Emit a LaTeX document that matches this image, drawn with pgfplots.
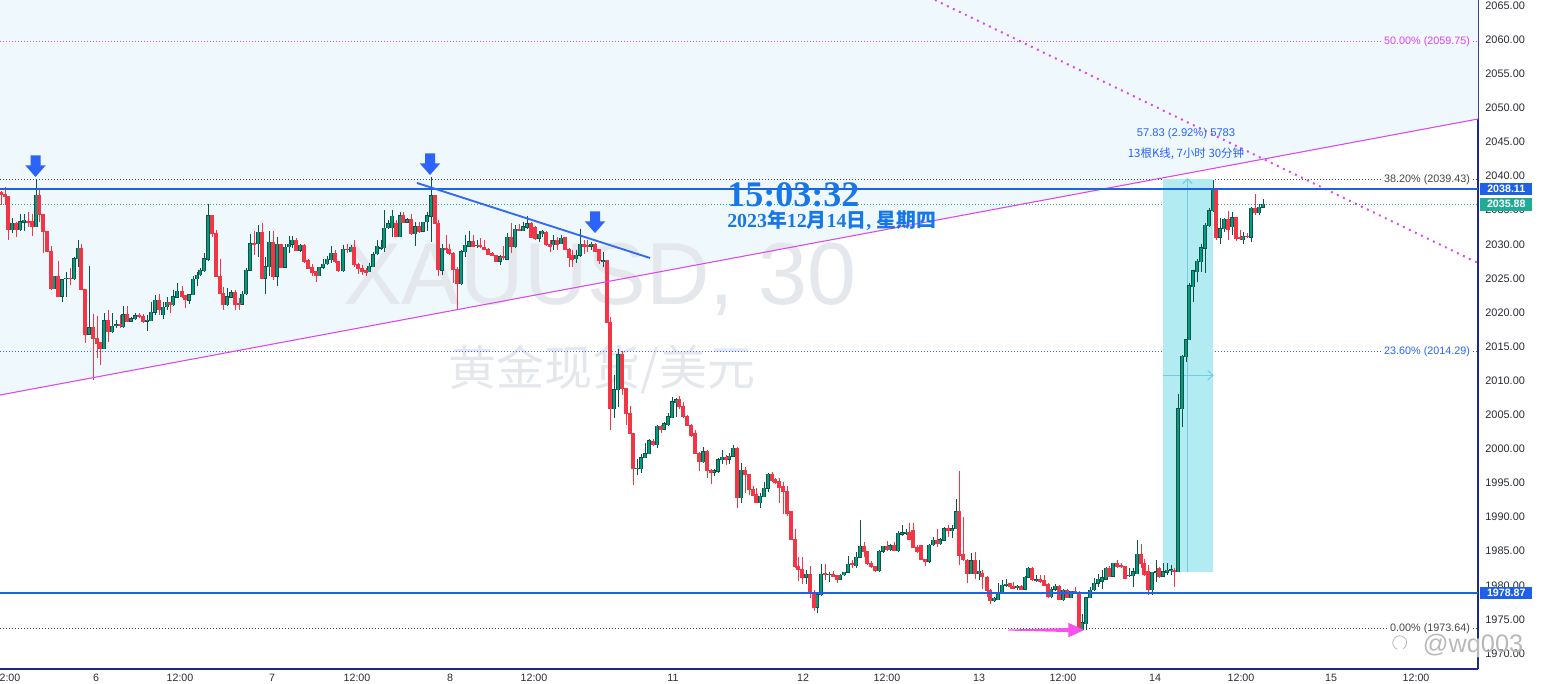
\documentclass[border=0pt]{standalone}
\usepackage{fontspec}
\setmainfont{Liberation Sans}
\newfontfamily\cjk{Noto Sans CJK SC}
\newfontfamily\serifclock{Liberation Serif}
\usepackage{pgfplots}
\usepackage{pgfplotstable}
\pgfplotsset{compat=1.18}

\definecolor{bgshade}{RGB}{239,248,252}
\definecolor{upfill}{RGB}{8,153,129}
\definecolor{updark}{RGB}{12,84,70}
\definecolor{downred}{RGB}{242,54,69}
\definecolor{lineblue}{RGB}{30,96,232}
\definecolor{trendblue}{RGB}{50,105,245}
\definecolor{arrowblue}{RGB}{44,100,250}
\definecolor{trendviolet}{RGB}{218,72,240}
\definecolor{fibmag}{RGB}{224,64,251}
\definecolor{fibgray}{RGB}{70,70,70}
\definecolor{fibblue}{RGB}{41,98,255}
\definecolor{pricegreen}{RGB}{34,171,148}
\definecolor{measfill}{RGB}{178,235,242}
\definecolor{measline}{RGB}{110,205,225}
\definecolor{clockblue}{RGB}{24,119,232}
\definecolor{wmgray}{RGB}{228,231,235}
\definecolor{axisnavy}{RGB}{28,42,135}
\definecolor{arrowmag}{RGB}{250,80,240}
\definecolor{ticktext}{RGB}{40,44,52}

\newcommand\dg[1]{{\serifclock\bfseries #1}}
\newcommand\ck[1]{{\cjk\bfseries #1}}

% XAUUSD 30 min candles: x (pixel column), open, high, low, close
\pgfplotstableread{
x o h l c
1 2037.6 2037.8 2035.8 2037.3
5 2037.3 2038.4 2035.8 2037.0
8 2037.0 2037.1 2030.6 2032.1
12 2032.1 2033.8 2031.6 2033.1
16 2033.1 2033.2 2031.0 2032.1
20 2032.1 2034.5 2031.9 2033.3
24 2033.2 2034.5 2031.9 2033.5
28 2033.4 2034.8 2032.6 2033.2
32 2033.3 2034.5 2031.2 2032.6
36 2032.6 2039.5 2032.6 2037.2
39 2037.2 2038.0 2033.3 2034.3
43 2034.4 2034.5 2028.7 2031.9
47 2031.9 2032.0 2028.8 2028.9
51 2029.0 2029.7 2023.3 2023.5
54 2023.5 2025.4 2023.4 2025.3
58 2025.3 2027.6 2022.3 2022.4
62 2022.4 2024.9 2021.6 2024.8
66 2024.9 2026.0 2022.3 2025.0
70 2025.0 2026.5 2024.0 2024.9
74 2024.9 2028.2 2024.8 2027.9
78 2027.9 2030.7 2026.7 2029.4
81 2029.4 2030.0 2023.3 2023.4
85 2023.4 2023.5 2015.6 2016.8
89 2016.8 2026.8 2016.7 2017.8
93 2017.8 2019.8 2010.1 2016.2
97 2016.2 2019.5 2013.3 2015.4
100 2015.6 2015.7 2012.3 2014.7
104 2014.7 2019.9 2014.6 2018.8
108 2018.8 2020.4 2015.7 2017.2
112 2017.2 2019.9 2017.0 2018.0
116 2018.1 2018.9 2017.7 2018.2
120 2018.2 2019.6 2017.7 2018.1
123 2017.9 2020.9 2017.8 2019.7
127 2019.7 2021.0 2018.6 2018.7
131 2018.7 2019.4 2018.6 2019.1
135 2019.1 2019.9 2018.9 2019.5
139 2019.5 2019.9 2019.2 2019.4
143 2019.4 2019.8 2018.5 2018.7
147 2018.7 2019.6 2017.3 2018.9
151 2018.8 2021.6 2018.7 2020.0
155 2020.0 2022.5 2019.6 2021.8
159 2021.8 2022.7 2019.6 2020.4
163 2019.7 2021.6 2019.1 2020.8
167 2020.8 2022.3 2020.4 2021.5
170 2021.5 2021.6 2019.9 2021.2
173 2021.1 2023.3 2021.0 2022.3
177 2022.2 2024.3 2022.1 2023.1
182 2023.1 2023.9 2022.1 2022.4
185 2022.5 2022.6 2020.6 2021.9
189 2021.8 2022.7 2021.3 2022.6
193 2022.6 2025.4 2022.5 2024.9
197 2024.9 2026.0 2023.9 2025.5
200 2025.5 2026.5 2025.3 2026.2
204 2026.1 2028.7 2026.0 2027.9
208 2027.8 2035.9 2027.5 2034.2
212 2034.2 2034.3 2031.1 2031.6
216 2031.6 2032.1 2025.2 2025.3
220 2025.3 2027.9 2022.7 2022.8
223 2022.8 2023.8 2020.3 2021.1
227 2021.1 2023.6 2021.0 2022.3
231 2022.2 2023.3 2022.1 2022.9
235 2022.9 2023.3 2020.3 2021.1
239 2021.4 2022.1 2020.3 2021.2
242 2021.2 2023.2 2021.1 2022.7
246 2022.7 2026.5 2022.6 2026.2
250 2026.2 2031.5 2026.1 2030.1
254 2030.1 2031.9 2028.4 2030.0
258 2030.1 2032.8 2028.1 2031.8
262 2031.8 2033.1 2024.9 2025.0
265 2025.0 2028.1 2022.7 2026.7
269 2026.7 2031.9 2025.4 2030.3
273 2030.3 2031.9 2024.8 2025.2
277 2025.3 2031.0 2023.9 2030.0
281 2030.0 2030.1 2026.5 2026.6
285 2026.6 2030.0 2026.5 2029.6
289 2029.6 2031.2 2028.7 2030.0
292 2030.0 2031.2 2029.4 2030.6
296 2030.6 2030.9 2029.0 2029.1
300 2029.1 2030.1 2028.9 2029.9
304 2029.9 2030.0 2027.2 2027.5
308 2027.6 2027.9 2026.4 2026.5
312 2026.6 2027.1 2025.3 2025.8
316 2026.0 2026.1 2024.5 2025.4
319 2025.4 2026.7 2025.3 2026.6
323 2026.6 2027.9 2026.4 2027.1
327 2027.1 2028.3 2027.0 2027.8
331 2027.7 2029.7 2027.2 2028.7
335 2028.7 2029.2 2027.2 2027.5
338 2027.5 2027.6 2026.0 2026.1
343 2026.1 2029.9 2026.0 2029.3
347 2029.3 2030.0 2028.7 2029.2
351 2028.9 2029.9 2028.8 2029.6
354 2029.6 2030.6 2026.7 2027.0
358 2027.0 2027.2 2025.7 2026.5
362 2026.5 2027.0 2025.5 2026.0
366 2026.1 2026.5 2025.4 2025.8
369 2026.0 2027.2 2025.9 2026.8
373 2026.7 2028.9 2026.6 2028.5
377 2028.6 2030.6 2028.5 2029.7
381 2029.4 2030.7 2029.2 2029.6
384 2029.5 2035.0 2028.8 2032.4
388 2032.4 2033.5 2032.2 2033.0
392 2032.4 2035.0 2031.1 2034.1
396 2033.0 2033.6 2031.0 2031.1
400 2031.1 2034.8 2031.0 2034.2
403 2034.2 2034.8 2033.1 2033.2
407 2033.2 2033.8 2033.1 2033.6
411 2033.6 2034.5 2031.4 2031.5
415 2031.5 2033.3 2029.7 2032.6
419 2032.6 2033.3 2031.6 2031.9
423 2031.9 2033.3 2031.8 2033.2
427 2033.3 2034.8 2031.9 2034.2
431 2034.1 2039.8 2030.4 2037.1
435 2037.1 2037.3 2033.0 2033.1
438 2033.1 2033.6 2025.3 2026.3
442 2026.2 2030.1 2025.5 2029.4
446 2029.4 2031.4 2028.7 2029.2
449 2029.3 2030.1 2028.4 2028.6
453 2028.6 2028.8 2024.3 2026.3
457 2026.3 2026.7 2020.4 2024.3
461 2024.2 2029.2 2024.0 2028.9
465 2028.9 2031.4 2028.2 2029.9
469 2029.7 2032.0 2029.6 2030.4
473 2030.4 2031.4 2029.6 2029.7
477 2029.8 2030.6 2029.4 2029.9
480 2029.9 2030.9 2029.4 2029.6
484 2029.6 2030.7 2029.1 2029.2
488 2029.3 2029.4 2028.4 2028.5
492 2028.6 2028.9 2028.3 2028.4
496 2028.4 2028.5 2027.4 2027.5
500 2027.5 2028.4 2027.0 2028.2
503 2028.2 2029.7 2027.7 2028.0
507 2027.8 2031.6 2027.7 2031.0
511 2031.0 2033.1 2028.7 2029.6
515 2029.6 2032.8 2029.5 2032.2
519 2032.2 2033.0 2031.9 2032.0
523 2032.0 2033.3 2031.9 2032.6
527 2032.5 2034.1 2032.3 2033.0
531 2033.1 2033.3 2030.9 2031.0
535 2032.5 2032.7 2030.7 2030.9
539 2030.9 2031.9 2030.4 2031.5
542 2031.5 2032.1 2031.0 2031.9
546 2031.7 2031.9 2029.7 2029.9
550 2030.0 2030.6 2028.9 2029.7
553 2029.9 2031.4 2029.2 2030.5
557 2030.5 2031.0 2029.2 2029.9
561 2030.1 2031.4 2030.0 2030.9
565 2031.0 2031.1 2029.1 2029.2
569 2029.2 2029.4 2026.6 2028.1
572 2028.3 2029.2 2026.7 2027.8
576 2027.9 2029.2 2027.2 2028.4
580 2028.4 2032.3 2028.2 2030.0
584 2030.0 2030.7 2028.6 2029.7
587 2029.9 2030.7 2028.9 2029.7
591 2029.7 2030.4 2029.2 2030.0
595 2030.0 2030.2 2028.8 2028.9
599 2029.2 2029.3 2027.1 2027.6
603 2027.5 2028.8 2026.6 2027.6
607 2027.6 2027.7 2018.4 2018.5
610 2018.6 2019.4 2002.8 2005.9
614 2005.9 2010.8 2004.5 2008.7
618 2008.7 2014.7 2006.2 2013.8
622 2013.8 2014.3 2007.9 2008.9
626 2008.9 2009.0 2003.5 2005.2
630 2005.2 2006.3 2002.2 2002.3
633 2002.3 2002.4 1994.7 1997.1
637 1997.1 1998.5 1996.2 1997.2
641 1997.1 1999.2 1996.5 1998.7
645 1998.7 2000.8 1998.6 1999.3
649 1999.3 2001.4 1999.2 2001.2
653 2001.1 2001.4 2000.4 2000.6
657 2000.6 2003.5 2000.2 2003.3
661 2003.3 2003.5 2002.4 2002.9
664 2002.9 2004.0 2002.8 2003.7
668 2003.5 2005.2 2003.4 2004.7
672 2004.6 2007.6 2004.5 2006.9
676 2006.8 2007.4 2004.7 2007.2
679 2007.2 2007.8 2005.9 2006.2
683 2006.3 2006.9 2004.6 2004.7
687 2004.8 2005.0 2003.3 2003.4
691 2003.5 2003.7 2001.8 2002.0
695 2002.2 2002.8 1999.2 1999.3
699 1999.4 1999.6 1996.7 1998.1
703 1998.1 2000.3 1997.9 1999.6
707 1999.6 1999.8 1995.7 1996.8
711 1996.9 1997.0 1994.9 1996.5
714 1996.6 1997.0 1996.0 1996.8
718 1996.7 1998.6 1996.5 1998.4
722 1998.4 1999.9 1997.8 1998.8
726 1998.8 1999.1 1997.7 1998.4
729 1998.5 1999.4 1997.8 1998.9
733 1998.9 2000.6 1998.8 2000.1
737 2000.1 2000.3 1991.4 1992.8
741 1992.8 1997.9 1992.0 1996.9
745 1996.9 1997.3 1993.5 1996.2
749 1996.2 1996.3 1993.2 1994.0
753 1994.1 1994.5 1993.1 1993.2
756 1993.4 1994.2 1992.0 1992.1
760 1992.1 1993.5 1991.4 1993.1
764 1993.0 1995.2 1992.9 1994.2
768 1994.2 1996.4 1993.7 1996.3
772 1996.3 1996.6 1995.2 1995.4
775 1995.5 1995.7 1994.9 1995.0
779 1995.2 1995.7 1992.1 1994.4
783 1994.5 1995.2 1990.4 1993.7
787 1993.7 1994.5 1990.2 1990.5
791 1990.8 1990.9 1986.6 1986.7
795 1986.7 1988.2 1982.6 1982.7
798 1982.8 1984.2 1980.7 1982.3
802 1982.3 1984.2 1980.2 1981.2
806 1981.2 1982.2 1980.2 1981.6
810 1981.6 1982.8 1978.1 1978.8
814 1978.9 1979.3 1976.3 1976.8
817 1976.8 1978.7 1976.0 1978.6
821 1978.6 1983.1 1978.5 1981.6
825 1981.7 1983.1 1980.8 1981.5
829 1981.5 1982.0 1980.5 1981.6
833 1981.6 1982.1 1981.2 1981.3
837 1981.4 1981.5 1980.4 1980.9
840 1980.9 1981.6 1980.8 1981.5
844 1981.5 1982.0 1981.4 1981.9
848 1981.9 1984.3 1981.8 1983.1
852 1983.2 1983.7 1982.5 1983.1
856 1982.9 1984.9 1982.5 1984.1
860 1984.1 1989.6 1984.0 1985.7
864 1985.7 1986.4 1984.2 1984.9
867 1984.9 1985.0 1983.0 1983.2
871 1983.2 1983.5 1982.5 1982.7
875 1982.8 1982.9 1982.0 1982.1
879 1982.1 1985.2 1982.0 1985.0
883 1985.0 1985.8 1984.8 1985.7
887 1985.7 1986.5 1985.1 1985.2
890 1985.2 1986.1 1985.0 1985.8
894 1985.8 1986.4 1985.0 1985.1
898 1985.1 1988.0 1984.9 1987.6
902 1987.5 1988.8 1987.2 1987.7
906 1987.6 1988.3 1987.4 1987.8
909 1987.7 1989.1 1986.6 1986.7
913 1988.1 1989.1 1985.5 1985.6
917 1985.6 1985.9 1984.8 1985.0
921 1985.8 1985.9 1983.7 1983.8
925 1983.8 1983.9 1982.8 1983.5
929 1983.5 1986.1 1983.2 1985.9
933 1985.9 1987.1 1985.8 1986.6
937 1986.6 1988.2 1985.6 1986.1
940 1986.1 1986.9 1985.9 1986.7
944 1986.6 1988.5 1986.5 1988.3
948 1988.3 1988.8 1987.1 1988.0
952 1988.0 1988.8 1986.9 1988.3
956 1988.3 1992.6 1988.2 1990.8
959 1990.8 1996.8 1983.0 1984.4
963 1984.6 1990.0 1983.6 1983.7
967 1983.7 1983.8 1980.3 1981.7
971 1981.7 1984.7 1981.6 1983.6
975 1983.7 1984.9 1980.9 1981.7
979 1981.7 1983.7 1980.8 1982.1
982 1981.7 1982.2 1979.4 1981.3
987 1981.2 1981.4 1978.3 1979.2
990 1979.3 1979.4 1977.3 1977.8
994 1977.7 1978.3 1977.6 1978.1
998 1977.9 1980.3 1977.8 1978.9
1002 1978.9 1980.8 1978.8 1980.0
1006 1980.0 1980.9 1979.8 1980.2
1010 1980.3 1980.4 1979.4 1979.8
1013 1979.9 1980.5 1979.4 1979.5
1017 1979.6 1980.0 1979.3 1979.9
1021 1979.9 1980.0 1979.3 1979.4
1025 1979.4 1981.3 1979.3 1981.2
1028 1981.2 1982.7 1981.0 1982.5
1032 1982.5 1982.7 1980.7 1980.8
1036 1980.7 1981.5 1980.5 1980.8
1040 1980.8 1981.5 1980.4 1980.5
1044 1980.7 1981.5 1979.9 1980.0
1048 1980.2 1980.3 1978.1 1978.3
1051 1978.3 1979.8 1978.2 1979.4
1055 1979.4 1980.2 1979.2 1979.9
1059 1979.9 1980.0 1977.8 1977.9
1063 1977.9 1979.4 1977.7 1979.3
1067 1979.3 1979.5 1978.1 1978.2
1071 1978.2 1979.1 1978.1 1979.1
1075 1979.1 1979.8 1978.8 1978.9
1079 1978.9 1979.1 1973.4 1973.5
1082 1973.5 1975.8 1973.4 1974.5
1086 1974.4 1978.3 1973.5 1978.2
1090 1978.2 1979.8 1978.1 1979.3
1094 1979.3 1981.0 1979.1 1980.3
1098 1980.3 1981.7 1979.8 1980.9
1102 1980.6 1982.2 1979.5 1981.1
1106 1980.9 1982.7 1980.8 1982.5
1109 1982.5 1982.8 1981.2 1981.3
1113 1981.3 1983.3 1981.2 1983.2
1117 1983.2 1983.7 1982.5 1982.7
1121 1982.9 1983.2 1982.5 1982.7
1125 1982.8 1982.9 1980.9 1981.0
1129 1981.4 1982.5 1981.2 1981.5
1133 1981.4 1982.5 1979.8 1982.0
1137 1981.7 1986.7 1981.6 1984.6
1141 1984.6 1986.1 1982.5 1983.2
1144 1983.2 1983.8 1981.4 1981.5
1148 1982.0 1983.0 1978.6 1979.3
1152 1979.3 1982.0 1978.6 1981.9
1156 1981.8 1983.7 1980.5 1982.0
1159 1982.5 1982.7 1981.0 1981.3
1163 1981.3 1983.2 1981.2 1982.0
1167 1981.9 1983.2 1981.5 1982.2
1171 1982.2 1983.0 1981.5 1982.3
1174 1982.2 1982.5 1979.8 1982.0
1178 1982.0 2008.0 1981.9 2005.9
1182 2005.9 2013.7 2003.2 2013.6
1186 2013.5 2016.1 2012.8 2016.0
1189 2016.0 2024.3 2015.9 2023.9
1193 2023.8 2026.3 2021.6 2026.1
1197 2026.0 2027.8 2024.4 2027.5
1201 2027.4 2030.1 2026.0 2029.5
1205 2029.4 2033.1 2025.8 2032.8
1209 2032.7 2035.3 2032.6 2034.9
1213 2034.9 2039.4 2034.8 2038.1
1216 2038.1 2038.2 2030.7 2031.0
1220 2031.0 2033.8 2030.0 2032.3
1224 2032.3 2033.8 2031.8 2033.7
1228 2033.7 2034.9 2030.7 2032.1
1232 2032.6 2034.8 2031.4 2033.9
1236 2033.9 2034.0 2030.5 2030.9
1240 2031.0 2032.1 2030.6 2030.9
1243 2030.7 2031.8 2030.1 2031.2
1247 2031.2 2031.6 2030.9 2031.1
1251 2031.0 2035.4 2030.4 2035.3
1255 2035.3 2037.4 2034.3 2034.6
1259 2034.6 2035.9 2034.3 2035.4
1263 2035.4 2036.6 2035.3 2035.9
}\candles

\pgfplotsset{
  candle/.style={draw=none, mark=none, forget plot,
    error bars/.cd, y dir=minus, y explicit, error mark=none,
    error bar style={#1}},
}

\begin{document}
\begin{tikzpicture}
\begin{axis}[
  scale only axis,
  width=1108.5pt, height=501.75pt,
  xmin=0, xmax=1478, ymin=1967.73, ymax=2065.82,
  axis x line*=bottom, axis y line*=right,
  axis line style={draw=axisnavy, line width=1pt},
  tick style={draw=none},
  clip mode=individual,
  xtick={7,96,180,272,357,450,534,673,803,887,979,1063,1155,1241,1331,1416},
  xticklabels={12:00,6,12:00,7,12:00,8,12:00,11,12,12:00,13,12:00,14,12:00,15,12:00},
  xticklabel style={font=\fontsize{8}{9}\selectfont, text=ticktext},
  ytick={1970,1975,...,2065},
  yticklabel style={font=\fontsize{8.2}{9}\selectfont, text=ticktext, xshift=2pt,
    /pgf/number format/.cd, fixed, fixed zerofill, precision=2, 1000 sep={}, assume math mode=true},
]
% shaded zone above the rising trend line
\fill[bgshade] (0,2007.9) -- (1478,2048.37) -- (1478,2065.82) -- (0,2065.82) -- cycle;

% watermark
\node[anchor=base, text=wmgray, font=\fontsize{66}{70}\selectfont] at (600,2021.1) {XAUUSD, 30};
\node[text=wmgray, font=\cjk\fontsize{36}{40}\selectfont] at (602,2011.6) {黄金现货/美元};

% fibonacci levels
\draw[fibmag, line width=0.75pt, dash pattern=on 0.75pt off 1.5pt] (0,2059.75) -- (1478,2059.75);
\draw[fibgray, line width=0.75pt, dash pattern=on 0.75pt off 1.5pt] (0,2039.43) -- (1478,2039.43);
\draw[fibblue, line width=0.75pt, dash pattern=on 0.75pt off 1.5pt] (0,2014.29) -- (1478,2014.29);
\draw[fibgray, line width=0.75pt, dash pattern=on 0.75pt off 1.5pt] (0,1973.64) -- (1478,1973.64);
\draw[pricegreen, line width=0.75pt, dash pattern=on 0.75pt off 1.5pt] (0,2035.88) -- (1478,2035.88);

% measure box
\fill[measfill] (1163,2039.6) rectangle (1213,1982.0);
\draw[measline, line width=0.75pt] (1187.5,2039.6) -- (1187.5,1982.0);
\draw[measline, line width=0.75pt] (1163,2010.8) -- (1213,2010.8);
\draw[measline, line width=0.75pt] (1213,2010.8) ++(-4pt,3.5pt) -- ++(4pt,-3.5pt) -- ++(-4pt,-3.5pt);
\draw[measline, line width=0.75pt] (1187.5,2039.6) ++(-3.5pt,-3.5pt) -- ++(3.5pt,3.5pt) -- ++(3.5pt,-3.5pt);

% candles: wicks then bodies
\addplot[candle={draw=updark, line width=0.75pt}] table[x=x,
  y expr={\thisrow{c}>=\thisrow{o} ? \thisrow{h} : nan},
  y error expr={\thisrow{h}-\thisrow{l}}] {\candles};
\addplot[candle={draw=downred, line width=0.75pt}] table[x=x,
  y expr={\thisrow{c}<\thisrow{o} ? \thisrow{h} : nan},
  y error expr={\thisrow{h}-\thisrow{l}}] {\candles};
\addplot[candle={draw=updark, line width=2.3pt}] table[x=x,
  y expr={\thisrow{c}>=\thisrow{o} ? \thisrow{c}+0.06 : nan},
  y error expr={\thisrow{c}-\thisrow{o}+0.12}] {\candles};
\addplot[candle={draw=upfill, line width=1pt}] table[x=x,
  y expr={\thisrow{c}>=\thisrow{o} ? \thisrow{c} : nan},
  y error expr={\thisrow{c}-\thisrow{o}}] {\candles};
\addplot[candle={draw=downred, line width=2.3pt}] table[x=x,
  y expr={\thisrow{c}<\thisrow{o} ? \thisrow{o}+0.06 : nan},
  y error expr={\thisrow{o}-\thisrow{c}+0.12}] {\candles};

% drawings
\draw[trendviolet, line width=0.8pt] (0,2007.9) -- (1478,2048.37);
\draw[fibmag, line width=1.5pt, dash pattern=on 1.4pt off 3.6pt] (935,2065.82) -- (1478,2027.26);
\draw[lineblue, line width=1.5pt] (0,2038.11) -- (1478,2038.11);
\draw[lineblue, line width=1.5pt] (0,1978.87) -- (1478,1978.87);
\draw[trendblue, line width=1.4pt] (417,2038.99) -- (650,2027.99);

% arrows
\fill[arrowblue] (35.5,2039.87) -- ++(-7.7pt,8.75pt) -- ++(3.95pt,0pt) -- ++(0pt,7.5pt) -- ++(7.5pt,0pt) -- ++(0pt,-7.5pt) -- ++(3.95pt,0pt) -- cycle;
\fill[arrowblue] (430,2040.16) -- ++(-7.7pt,8.75pt) -- ++(3.95pt,0pt) -- ++(0pt,7.5pt) -- ++(7.5pt,0pt) -- ++(0pt,-7.5pt) -- ++(3.95pt,0pt) -- cycle;
\fill[arrowblue] (595,2031.66) -- ++(-7.7pt,8.75pt) -- ++(3.95pt,0pt) -- ++(0pt,7.5pt) -- ++(7.5pt,0pt) -- ++(0pt,-7.5pt) -- ++(3.95pt,0pt) -- cycle;
\fill[arrowmag] (1084,1973.44) -- ++(-11.8pt,5.5pt) -- ++(0pt,-4pt) -- ++(-45pt,-1.1pt) -- ++(0pt,-0.8pt) -- ++(45pt,-1.1pt) -- ++(0pt,-4pt) -- cycle;

% fib labels
\node[anchor=east, fill=bgshade, inner xsep=2pt, inner ysep=0.5pt, text=fibmag, font=\fontsize{8.1}{9}\selectfont] at (1473,2059.75) {50.00\% (2059.75)};
\node[anchor=east, fill=white, inner xsep=2pt, inner ysep=0.5pt, text=fibgray, font=\fontsize{8.1}{9}\selectfont] at (1473,2039.43) {38.20\% (2039.43)};
\node[anchor=east, fill=white, inner xsep=2pt, inner ysep=0.5pt, text=fibblue, font=\fontsize{8.1}{9}\selectfont] at (1473,2014.29) {23.60\% (2014.29)};
\node[anchor=east, fill=white, inner xsep=2pt, inner ysep=0.5pt, text=fibgray, font=\fontsize{8.1}{9}\selectfont] at (1473,1973.64) {0.00\% (1973.64)};

% measure text
\node[text=fibblue, font=\fontsize{8.4}{10}\selectfont] at (1186,2046.2) {57.83 (2.92\%) 5783};
\node[text=fibblue, font=\cjk\fontsize{8.6}{10}\selectfont] at (1186,2043.3) {13根K线, 7小时 30分钟};

% clock
\node[anchor=base west, inner sep=0pt, text=clockblue, font=\serifclock\bfseries\fontsize{27}{30}\selectfont] at (727,2035.47) {15:03:32};
\node[anchor=base west, inner sep=0pt, text=clockblue, font=\fontsize{14.9}{16}\selectfont] at (727,2032.5)
  {\dg{2023}\ck{年}\dg{12}\ck{月}\dg{14}\ck{日}\dg{, }\ck{星期四}};

% price tags
\node[anchor=west, xshift=1.5pt, fill=lineblue, text=white, font=\bfseries\fontsize{8}{9}\selectfont, minimum width=39pt, minimum height=9.5pt, inner sep=0pt] at (1478,2038.11) {2038.11};
\node[anchor=west, xshift=1.5pt, fill=pricegreen, text=white, font=\bfseries\fontsize{8}{9}\selectfont, minimum width=39pt, minimum height=9.5pt, inner sep=0pt] at (1478,2035.88) {2035.88};
\node[anchor=west, xshift=1.5pt, fill=lineblue, text=white, font=\bfseries\fontsize{8}{9}\selectfont, minimum width=39pt, minimum height=9.5pt, inner sep=0pt] at (1478,1978.87) {1978.87};

% user mark
\draw[gray!55, line width=0.6pt] (1400,1971.6) ++(-2pt,-5pt) arc[start angle=250, end angle=-60, radius=5.2pt];
\node[text=gray!55, font=\fontsize{19}{20}\selectfont] at (1473,1971.1) {@wq003};
\end{axis}
\pgfresetboundingbox
\path (current axis.south west) ++(0pt,-11.25pt) rectangle ([xshift=47.25pt]current axis.north east);
\end{tikzpicture}
\end{document}
